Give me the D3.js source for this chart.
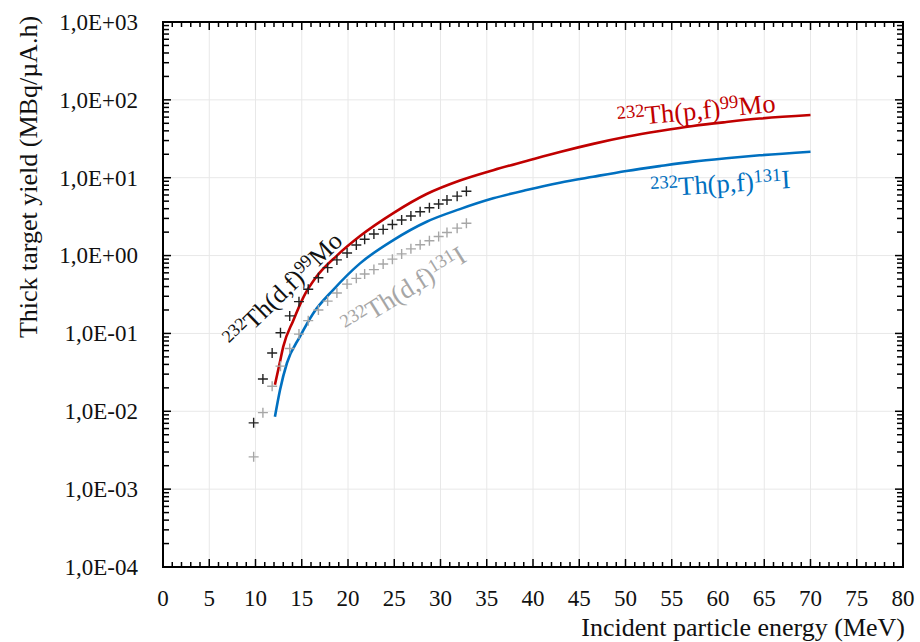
<!DOCTYPE html>
<html>
<head>
<meta charset="utf-8">
<script src="https://cdn.jsdelivr.net/npm/d3@7"></script>
<style>
  html, body { margin: 0; padding: 0; background: #fff; }
  svg { display: block; font-family: "Liberation Serif", "Times New Roman", serif; }
</style>
</head>
<body>
<svg id="chart" width="920" height="642"></svg>
<script>
// ---------- data ----------
// 232Th(p,f)99Mo (red line)
const pMoEnergy = [12.1, 12.6, 13.0, 14.1, 15.2, 16.6, 18.8, 21.3, 24.9, 28.5, 32.1, 35.7, 39.3, 42.9, 46.5, 50.1, 53.7, 57.3, 60.9, 64.5, 70.0];
const pMoYield  = [0.0219, 0.0407, 0.0676, 0.148, 0.295, 0.537, 1.0, 1.78, 3.51, 6.17, 9.2, 12.5, 16.4, 21.4, 27.2, 33.5, 39.8, 46.2, 51.9, 57.5, 63.8];
// 232Th(p,f)131I (blue line)
const pIEnergy = [12.1, 12.65, 13.4, 14.8, 16.25, 18.4, 21.3, 24.9, 28.5, 32.1, 35.7, 39.3, 42.9, 46.5, 50.1, 53.7, 57.3, 60.9, 64.5, 70.0];
const pIYield  = [0.0085, 0.0188, 0.0417, 0.091, 0.182, 0.363, 0.794, 1.58, 2.72, 3.95, 5.43, 6.95, 8.63, 10.3, 12.2, 14.1, 16.1, 17.8, 19.4, 21.6];
// 232Th(d,f) markers share energies
const dEnergy = [9.8, 10.8, 11.8, 12.7, 13.7, 14.7, 15.7, 16.8, 17.8, 18.8, 19.9, 20.9, 21.8, 22.8, 23.8, 24.8, 25.8, 26.8, 27.8, 28.8, 29.8, 30.7, 31.8, 32.8];
// 232Th(d,f)99Mo (black crosses)
const dMoYield = [0.0071, 0.026, 0.056, 0.102, 0.168, 0.256, 0.37, 0.52, 0.70, 0.88, 1.08, 1.37, 1.62, 1.89, 2.17, 2.51, 2.86, 3.23, 3.66, 4.12, 4.6, 5.17, 5.8, 6.7];
// 232Th(d,f)131I (grey crosses)
const dIYield = [0.0026, 0.0096, 0.021, 0.038, 0.064, 0.098, 0.146, 0.20, 0.26, 0.33, 0.43, 0.51, 0.58, 0.66, 0.78, 0.90, 1.05, 1.22, 1.38, 1.55, 1.76, 1.98, 2.25, 2.6];

const xTickValues = [0, 5, 10, 15, 20, 25, 30, 35, 40, 45, 50, 55, 60, 65, 70, 75, 80];
const yTickValues = [1e-4, 1e-3, 1e-2, 1e-1, 1e0, 1e1, 1e2, 1e3];
const yTickLabels = ["1,0E-04", "1,0E-03", "1,0E-02", "1,0E-01", "1,0E+00", "1,0E+01", "1,0E+02", "1,0E+03"];

const xTitle = "Incident particle energy (MeV)";
const yTitle = "Thick target yield (MBq/\u00B5A.h)";

// ---------- layout ----------
const svg = d3.select("#chart");
const L = 163, R = 903, T = 22, B = 567;
const x = d3.scaleLinear().domain([0, 80]).range([L, R]);
const y = d3.scaleLog().domain([1e-4, 1e3]).range([B, T]);

// grid
const grid = svg.append("g");
grid.selectAll("line.gx").data(xTickValues.filter(v => v > 0 && v < 80)).enter().append("line")
  .attr("x1", d => x(d)).attr("x2", d => x(d)).attr("y1", T).attr("y2", B)
  .attr("stroke", "#e8e8e8").attr("stroke-width", 1);
grid.selectAll("line.gy").data(yTickValues.filter(v => v > 1e-4 && v < 1e3)).enter().append("line")
  .attr("x1", L).attr("x2", R).attr("y1", d => y(d)).attr("y2", d => y(d))
  .attr("stroke", "#e8e8e8").attr("stroke-width", 1);

// minor tick values
const xMinor = d3.range(0, 81, 1).filter(v => v % 5 !== 0);
const yMinor = [];
for (let e = -4; e < 3; e++) for (let k = 2; k <= 9; k++) yMinor.push(k * Math.pow(10, e));

// ticks (inside, mirrored)
const tk = svg.append("g").attr("stroke", "#000").attr("stroke-width", 1.5);
function xt(vals, len) {
  vals.forEach(v => {
    tk.append("line").attr("x1", x(v)).attr("x2", x(v)).attr("y1", B).attr("y2", B - len);
    tk.append("line").attr("x1", x(v)).attr("x2", x(v)).attr("y1", T).attr("y2", T + len);
  });
}
function yt(vals, len) {
  vals.forEach(v => {
    tk.append("line").attr("x1", L).attr("x2", L + len).attr("y1", y(v)).attr("y2", y(v));
    tk.append("line").attr("x1", R).attr("x2", R - len).attr("y1", y(v)).attr("y2", y(v));
  });
}
xt(xMinor, 5); xt(xTickValues, 8);
yt(yMinor, 6); yt(yTickValues, 8);

// frame
svg.append("rect").attr("x", L).attr("y", T).attr("width", R - L).attr("height", B - T)
  .attr("fill", "none").attr("stroke", "#000").attr("stroke-width", 2);

// tick labels
svg.append("g").selectAll("text").data(xTickValues).enter().append("text")
  .attr("x", d => x(d)).attr("y", 606).attr("text-anchor", "middle")
  .attr("font-size", 23).attr("fill", "#111").text(d => d);
svg.append("g").selectAll("text").data(yTickValues).enter().append("text")
  .attr("x", 138).attr("y", d => y(d)).attr("dy", "0.34em").attr("text-anchor", "end")
  .attr("font-size", 23).attr("fill", "#111").text((d, i) => yTickLabels[i]);

// axis titles
svg.append("text").attr("x", 905).attr("y", 636).attr("text-anchor", "end")
  .attr("font-size", 26).attr("fill", "#111").text(xTitle);
svg.append("text").attr("transform", "translate(37,177) rotate(-90)").attr("text-anchor", "middle")
  .attr("font-size", 26).attr("fill", "#111").text(yTitle);

// lines
const line = d3.line().x(d => x(d[0])).y(d => y(d[1])).curve(d3.curveMonotoneX);
const pMo = pMoEnergy.map((e, i) => [e, pMoYield[i]]);
const pI = pIEnergy.map((e, i) => [e, pIYield[i]]);
svg.append("path").datum(pMo).attr("d", line).attr("fill", "none").attr("stroke", "#C00000").attr("stroke-width", 2.6);
svg.append("path").datum(pI).attr("d", line).attr("fill", "none").attr("stroke", "#0070C0").attr("stroke-width", 2.6);

// crosses
function crosses(vals, color) {
  svg.append("g").selectAll("path").data(dEnergy.map((e, i) => [e, vals[i]])).enter().append("path")
    .attr("transform", d => `translate(${x(d[0])},${y(d[1])})`)
    .attr("d", "M-5,0H5M0,-5V5").attr("stroke", color).attr("stroke-width", 1.4).attr("fill", "none");
}
crosses(dIYield, "#a6a6a6");
crosses(dMoYield, "#222");

// series labels with superscripts
function label(px, py, angle, size, color, parts) {
  const t = svg.append("text").attr("transform", `translate(${px},${py}) rotate(${angle})`)
    .attr("font-size", size).attr("fill", color);
  let shift = 0;
  parts.forEach(p => {
    const sup = p[1];
    const target = sup ? -0.3 * size : 0;
    t.append("tspan").attr("dy", target - shift).attr("font-size", sup ? size * 0.7 : size).text(p[0]);
    shift = target;
  });
}
label(234, 349, -44, 25.5, "#111", [["232", 1], ["Th(d,f)", 0], ["99", 1], ["Mo", 0]]);
label(349, 335, -32, 26.5, "#a6a6a6", [["232", 1], ["Th(d,f)", 0], ["131", 1], ["I", 0]]);
label(618, 127, -5.5, 26.5, "#C00000", [["232", 1], ["Th(p,f)", 0], ["99", 1], ["Mo", 0]]);
label(651, 197, -3.7, 26.5, "#0070C0", [["232", 1], ["Th(p,f)", 0], ["131", 1], ["I", 0]]);
</script>
</body>
</html>
